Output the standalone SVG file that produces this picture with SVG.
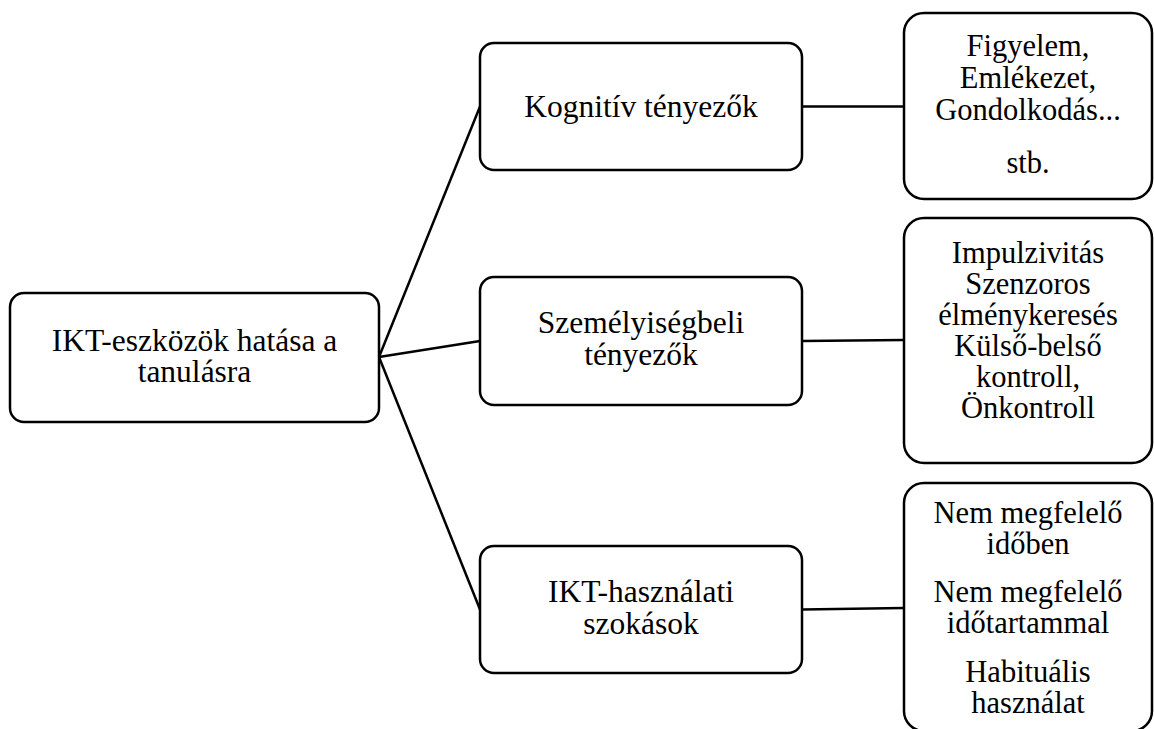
<svg xmlns="http://www.w3.org/2000/svg" width="1154" height="729" viewBox="0 0 1154 729">
<style>
.box{fill:#fff;stroke:#000;stroke-width:2.5}
.c{stroke:#000;stroke-width:2.5;fill:none}
text{font-family:"Liberation Serif","Times New Roman",serif;fill:#000;text-anchor:middle}
.m{font-size:31.5px}
.r{font-size:30.5px}
</style>
<rect width="1154" height="729" fill="#fff"/>
<g id="connectors">
<line class="c" x1="379" y1="357" x2="480" y2="106.5"/>
<line class="c" x1="379" y1="357" x2="480" y2="341"/>
<line class="c" x1="379" y1="357" x2="480" y2="609.5"/>
<line class="c" x1="802" y1="106.5" x2="904" y2="106.5"/>
<line class="c" x1="802" y1="341" x2="904" y2="340"/>
<line class="c" x1="802" y1="609.5" x2="904" y2="608"/>
</g>
<g id="root">
<rect class="box" x="10" y="293" width="369" height="129" rx="14"/>
<text class="m" x="194.5" y="351">IKT-eszközök hatása a</text>
<text class="m" x="194.5" y="382">tanulásra</text>
</g>
<g id="kognitiv">
<rect class="box" x="480" y="43" width="322" height="127" rx="14"/>
<text class="m" x="641" y="117">Kognitív tényezők</text>
</g>
<g id="szemelyiseg">
<rect class="box" x="480" y="277" width="322" height="128" rx="14"/>
<text class="m" x="641" y="333">Személyiségbeli</text>
<text class="m" x="641" y="365">tényezők</text>
</g>
<g id="ikthasznalat">
<rect class="box" x="480" y="546" width="322" height="127" rx="14"/>
<text class="m" x="641" y="602">IKT-használati</text>
<text class="m" x="641" y="634">szokások</text>
</g>
<g id="kognitiv-detail">
<rect class="box" x="904" y="13" width="248" height="186" rx="20"/>
<text class="r" x="1028" y="56">Figyelem,</text>
<text class="r" x="1028" y="88">Emlékezet,</text>
<text class="r" x="1028" y="120">Gondolkodás...</text>
<text class="r" x="1028" y="173">stb.</text>
</g>
<g id="szemelyiseg-detail">
<rect class="box" x="904" y="218" width="248" height="245" rx="20"/>
<text class="r" x="1028" y="263">Impulzivitás</text>
<text class="r" x="1028" y="294">Szenzoros</text>
<text class="r" x="1028" y="325">élménykeresés</text>
<text class="r" x="1028" y="356">Külső-belső</text>
<text class="r" x="1028" y="387">kontroll,</text>
<text class="r" x="1028" y="418">Önkontroll</text>
</g>
<g id="ikthasznalat-detail">
<rect class="box" x="904" y="483" width="248" height="248" rx="20"/>
<text class="r" x="1028" y="523">Nem megfelelő</text>
<text class="r" x="1028" y="554">időben</text>
<text class="r" x="1028" y="602">Nem megfelelő</text>
<text class="r" x="1028" y="633">időtartammal</text>
<text class="r" x="1028" y="682">Habituális</text>
<text class="r" x="1028" y="713">használat</text>
</g>
</svg>
